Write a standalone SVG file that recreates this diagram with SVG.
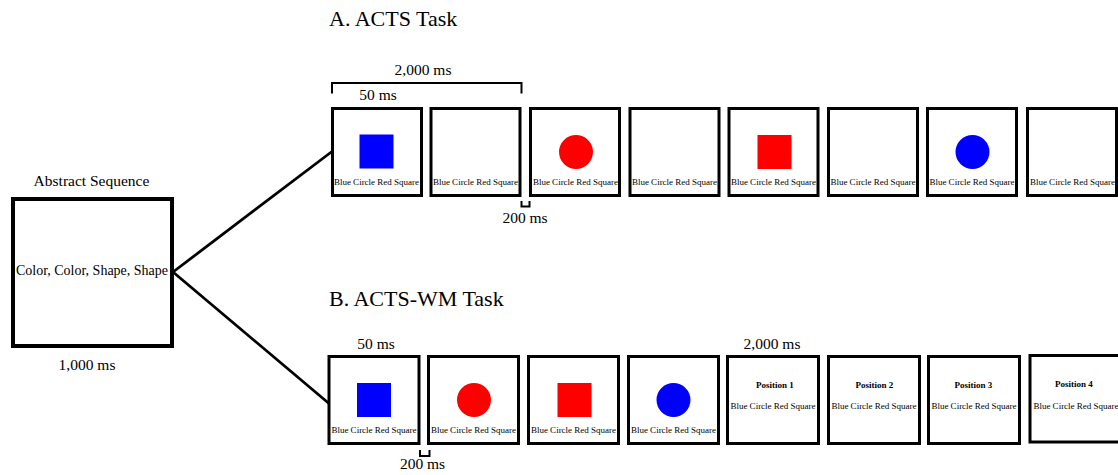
<svg xmlns="http://www.w3.org/2000/svg" width="1118" height="475" viewBox="0 0 1118 475">
<style>
text{font-family:"Liberation Serif","Times New Roman",serif;fill:#000}
.title{font-size:22px}
.lbl{font-size:15.5px;text-anchor:middle}
.mid{font-size:14px;text-anchor:middle}
.sm{font-size:9px;text-anchor:middle}
.pos{font-size:9px;font-weight:bold;text-anchor:middle}
.frame{fill:#fff;stroke:#000;stroke-width:3}
.abs{fill:#fff;stroke:#000;stroke-width:4}
.br{fill:none;stroke:#000;stroke-width:2}
.conn{stroke:#000;stroke-width:2.8;fill:none}
</style>
<rect width="1118" height="475" fill="#fff"/>
<text class="title" x="329" y="26">A. ACTS Task</text>
<text class="title" x="329" y="306">B. ACTS-WM Task</text>

<g id="connectors">
<line class="conn" x1="173" y1="272" x2="332" y2="151.5"/>
<line class="conn" x1="173" y1="272" x2="329" y2="403.5"/>
</g>

<g id="abstract">
<text class="lbl" x="91.5" y="186">Abstract Sequence</text>
<rect class="abs" x="13" y="199" width="159" height="147"/>
<text class="mid" x="92" y="275">Color, Color, Shape, Shape</text>
<text class="lbl" x="87" y="370">1,000 ms</text>
</g>

<g id="timingA">
<path class="br" d="M332 93.5 V83 H521.5 V93.5"/>
<text class="lbl" x="423" y="75">2,000 ms</text>
<text class="lbl" x="378" y="99.5">50 ms</text>
<path class="br" d="M521.5 201 V206.5 H529.5 V201"/>
<text class="lbl" x="525" y="223">200 ms</text>
</g>

<g id="a1"><rect class="frame" x="332.5" y="108.5" width="89" height="87"/><rect x="359.5" y="134.5" width="34" height="34" fill="#0000ff"/><text class="sm" x="376.5" y="185">Blue Circle Red Square</text></g>
<g id="a2"><rect class="frame" x="431" y="108.5" width="89" height="87"/><text class="sm" x="475.5" y="185">Blue Circle Red Square</text></g>
<g id="a3"><rect class="frame" x="530.5" y="108.5" width="89" height="87"/><circle cx="576" cy="152" r="17" fill="#ff0000"/><text class="sm" x="575.5" y="185">Blue Circle Red Square</text></g>
<g id="a4"><rect class="frame" x="630" y="108.5" width="89" height="87"/><text class="sm" x="674.5" y="185">Blue Circle Red Square</text></g>
<g id="a5"><rect class="frame" x="729" y="108.5" width="89" height="87"/><rect x="757.5" y="135" width="34" height="34" fill="#ff0000"/><text class="sm" x="773.5" y="185">Blue Circle Red Square</text></g>
<g id="a6"><rect class="frame" x="828.5" y="108.5" width="89" height="87"/><text class="sm" x="873" y="185">Blue Circle Red Square</text></g>
<g id="a7"><rect class="frame" x="927.5" y="108.5" width="89" height="87"/><circle cx="972.5" cy="152" r="17" fill="#0000ff"/><text class="sm" x="972" y="185">Blue Circle Red Square</text></g>
<g id="a8"><rect class="frame" x="1027.5" y="108.5" width="89" height="87"/><text class="sm" x="1072.5" y="185">Blue Circle Red Square</text></g>

<g id="timingB">
<text class="lbl" x="376" y="348.5">50 ms</text>
<text class="lbl" x="772" y="348.5">2,000 ms</text>
<path class="br" d="M420 450 V456 H429.5 V450"/>
<text class="lbl" x="422.5" y="469">200 ms</text>
</g>

<g id="b1"><rect class="frame" x="329" y="356.5" width="90" height="87"/><rect x="357" y="383" width="34" height="34" fill="#0000ff"/><text class="sm" x="374" y="433">Blue Circle Red Square</text></g>
<g id="b2"><rect class="frame" x="428.5" y="356.5" width="90" height="87"/><circle cx="474" cy="400" r="17" fill="#ff0000"/><text class="sm" x="473.5" y="433">Blue Circle Red Square</text></g>
<g id="b3"><rect class="frame" x="528.5" y="356.5" width="90" height="87"/><rect x="557.5" y="383" width="34" height="34" fill="#ff0000"/><text class="sm" x="573.5" y="433">Blue Circle Red Square</text></g>
<g id="b4"><rect class="frame" x="628.5" y="356.5" width="90" height="87"/><circle cx="673.5" cy="400" r="17" fill="#0000ff"/><text class="sm" x="673.5" y="433">Blue Circle Red Square</text></g>
<g id="b5"><rect class="frame" x="727.5" y="356.5" width="91" height="87"/><text class="pos" x="775" y="387.5">Position 1</text><text class="sm" x="773" y="409">Blue Circle Red Square</text></g>
<g id="b6"><rect class="frame" x="828.5" y="356.5" width="91" height="87"/><text class="pos" x="874.5" y="387.5">Position 2</text><text class="sm" x="874" y="409">Blue Circle Red Square</text></g>
<g id="b7"><rect class="frame" x="928.5" y="356.5" width="91" height="87"/><text class="pos" x="973.5" y="387.5">Position 3</text><text class="sm" x="974" y="409">Blue Circle Red Square</text></g>
<g id="b8"><rect class="frame" x="1030" y="355.5" width="91" height="86.5"/><text class="pos" x="1074" y="387">Position 4</text><text class="sm" x="1076" y="408.5">Blue Circle Red Square</text></g>
</svg>
